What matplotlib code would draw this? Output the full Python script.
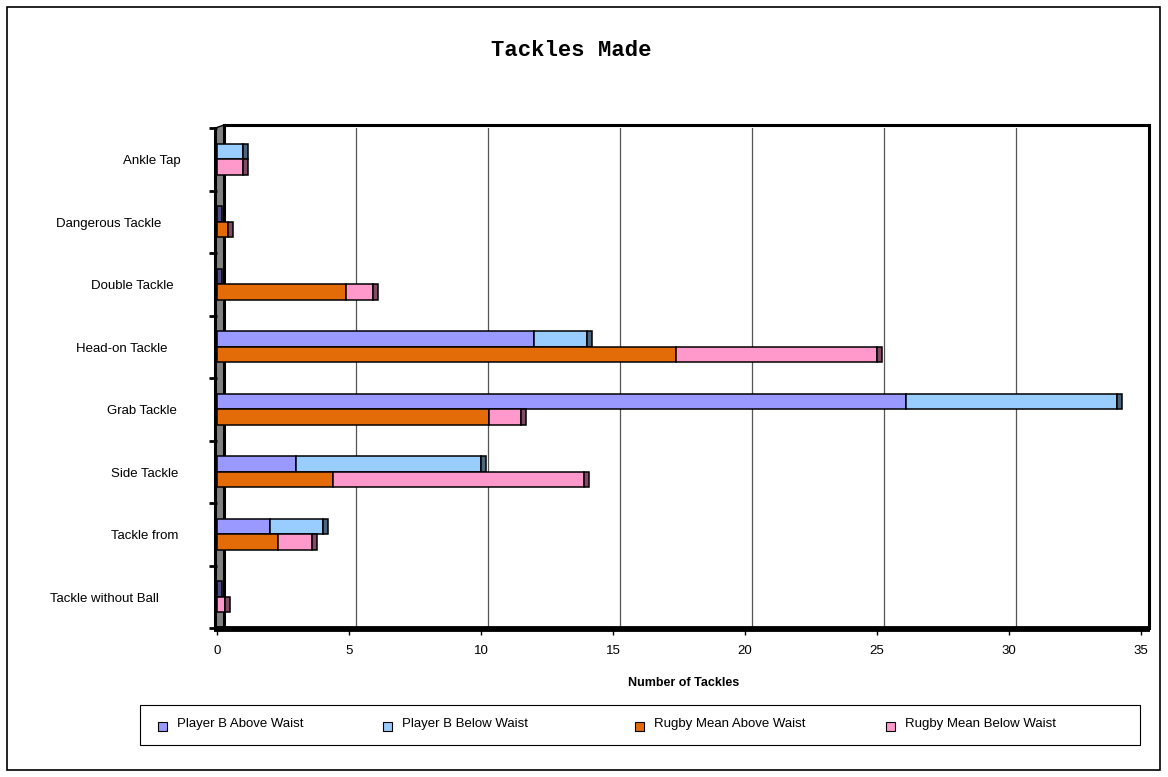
import numpy as np
import matplotlib.pyplot as plt
import matplotlib.transforms as mtransforms
from matplotlib.patches import Rectangle, Polygon

plt.rcParams['font.family'] = ['Liberation Sans', 'DejaVu Sans']

# Datos de placajes por tipo
categorias = ['Ankle Tap', 'Dangerous Tackle', 'Double Tackle', 'Head-on Tackle',
              'Grab Tackle', 'Side Tackle', 'Tackle from', 'Tackle without Ball']
player_b_above = [0, 0, 0, 12.0, 26.1, 3.0, 2.0, 0]
player_b_below = [1.0, 0, 0, 2.0, 8.0, 7.0, 2.0, 0]
rugby_above = [0, 0.4, 4.9, 17.4, 10.3, 4.4, 2.3, 0]
rugby_below = [1.0, 0, 1.0, 7.6, 1.2, 9.5, 1.3, 0.3]

series = ['Player B Above Waist', 'Player B Below Waist',
          'Rugby Mean Above Waist', 'Rugby Mean Below Waist']
colores = ['#9999FF', '#99CCFF', '#E36C09', '#FF99CC']
laterales = ['#4C4C80', '#4D6680', '#71360A', '#804D66']

W, H = 1168, 777
fig = plt.figure(figsize=(W / 100, H / 100), dpi=100)

# ejes: x=0 en el plano frontal
x0_px, x1_px, y0_px, y1_px = 217, 1150, 128, 628
ax = fig.add_axes([x0_px / W, 1 - y1_px / H, (x1_px - x0_px) / W, (y1_px - y0_px) / H])
px = 26.4  # pixeles por unidad
xmax = (x1_px - x0_px) / px
n = len(categorias)
ax.set_xlim(0, xmax)
ax.set_ylim(n - 0.5, -0.5)
for s in ax.spines.values():
    s.set_visible(False)

dx = 7 / px      # profundidad 3D en x
dy = 3 / 62.5    # profundidad 3D en y
xf = -1.6 / px   # borde frontal de la pared

# pared lateral gris
pared = Polygon([(xf, n - 0.5), (xf, -0.5), (dx, -0.5 - dy), (dx, n - 0.5)],
                closed=True, facecolor='#808080', edgecolor='none', zorder=1, clip_on=False)
ax.add_patch(pared)
ax.plot([xf, xf], [-0.5, n - 0.5], color='black', lw=2.2, zorder=2, clip_on=False)
ax.plot([dx, dx], [-0.5 - dy, n - 0.5], color='black', lw=2.2, zorder=2, clip_on=False)
ax.plot([xf, dx], [-0.5, -0.5 - dy], color='black', lw=1, zorder=2, clip_on=False)

# pared del fondo
ax.plot([dx, xmax - 0.02], [-0.5 - dy, -0.5 - dy], color='black', lw=2.2, zorder=2, clip_on=False)
ax.plot([xmax - 0.02, xmax - 0.02], [-0.5 - dy, n - 0.5], color='black', lw=2.2, zorder=2, clip_on=False)

# lineas de rejilla en el fondo
for v in range(5, 35, 5):
    ax.plot([v + dx, v + dx], [-0.5 - dy, n - 0.5], color='#555555', lw=0.9, zorder=1.5)

# suelo
ax.plot([xf - 0.04, xmax], [n - 0.5 + 0.02, n - 0.5 + 0.02], color='black', lw=4.2,
        zorder=7, clip_on=False, solid_capstyle='butt')

# barras apiladas
y = np.arange(n)
h = 0.25
capw = 5 / px
grupos = [(player_b_above, player_b_below, 0, y - h / 2),
          (rugby_above, rugby_below, 2, y + h / 2)]
for above, below, k, yy in grupos:
    above = np.array(above)
    below = np.array(below)
    ax.barh(yy, above, height=h, color=colores[k], edgecolor='black', lw=1.1, zorder=3)
    ax.barh(yy, below, left=above, height=h, color=colores[k + 1], edgecolor='black', lw=1.1, zorder=3)
    total = above + below
    lat = [laterales[k] if t == 0 else laterales[k + 1] for t in total]
    ax.barh(yy, capw, left=total, height=h, color=lat, edgecolor='black', lw=1.1, zorder=3)

# ejes y marcas
ax.set_xticks(range(0, 36, 5))
ax.set_xticklabels([str(v) for v in range(0, 36, 5)], fontsize=9.5)
ax.tick_params(axis='x', direction='out', length=5, width=1, pad=7)
ax.set_yticks(np.arange(-0.5, n, 1))
ax.set_yticklabels([])
ax.tick_params(axis='y', direction='out', length=6, width=2, pad=2)
ax.set_xlabel('Number of Tackles', fontsize=9, fontweight='bold', labelpad=15)

# etiquetas de categorias
borde_der = [181, 161, 174, 168, 177, 178, 178, 159]
tr = mtransforms.blended_transform_factory(fig.transFigure, ax.transData)
for i, c in enumerate(categorias):
    ax.text(borde_der[i] / W, i + 0.03, c, transform=tr, ha='right', va='center', fontsize=9.5)

# titulo
fig.text(571 / W, 1 - 51 / H, 'Tackles Made', ha='center', va='center',
         family=['Liberation Mono', 'DejaVu Sans Mono'], fontweight='bold', fontsize=16)

# leyenda
fig.add_artist(Rectangle((140 / W, 1 - 745 / H), 1000 / W, 40 / H, transform=fig.transFigure,
                         facecolor='white', edgecolor='black', lw=0.8))
xs_leyenda = [163, 388, 640, 891]
for xl, nombre, col in zip(xs_leyenda, series, colores):
    fig.add_artist(Rectangle(((xl - 5) / W, 1 - 731 / H), 9 / W, 9 / H, transform=fig.transFigure,
                             facecolor=col, edgecolor='black', lw=0.8))
    fig.text((xl + 14) / W, 1 - 724 / H, nombre, ha='left', va='center', fontsize=9.5)

# marco exterior
fig.add_artist(Rectangle((7 / W, 7 / H), (W - 15) / W, (H - 14) / H, transform=fig.transFigure,
                         facecolor='none', edgecolor='black', lw=1.2))

plt.savefig('out.png', dpi=100)
